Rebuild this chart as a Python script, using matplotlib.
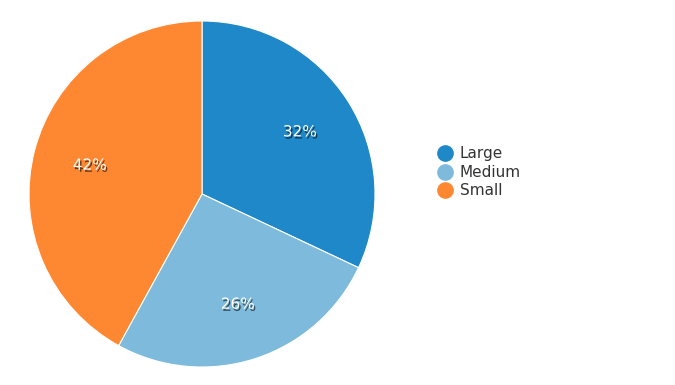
import matplotlib.pyplot as plt
import matplotlib.patheffects as pe
from matplotlib.lines import Line2D

# Data
labels = ['Large', 'Medium', 'Small']
values = [32, 26, 42]
colors = ['#1f88c9', '#7dbadb', '#fe8832']

W, H = 675, 385
fig = plt.figure(figsize=(W / 100, H / 100), dpi=100)

# Pie axes: centre (202,194), radius 173 px
cx, cy, r = 202, 194, 173
ax = fig.add_axes([(cx - r) / W, (H - cy - r) / H, 2 * r / W, 2 * r / H])

wedges, texts, autotexts = ax.pie(
    values, colors=colors, startangle=90, counterclock=False,
    autopct='%1.0f%%', pctdistance=0.67,
    wedgeprops=dict(edgecolor='white', linewidth=0.8),
    textprops=dict(color='white', fontsize=11),
)
for t in autotexts:
    t.set_path_effects([pe.withSimplePatchShadow(offset=(1, -1.5), shadow_rgbFace='black', alpha=0.6)])
ax.set_xlim(-1, 1)
ax.set_ylim(-1, 1)
ax.set_aspect('equal')

# Legend
handles = [Line2D([], [], marker='o', linestyle='', markersize=11,
                  markerfacecolor=c, markeredgecolor=c) for c in colors]
leg = fig.legend(handles, labels, loc='upper left',
                 bbox_to_anchor=(440 / W, 1 - 146.5 / H), frameon=False,
                 fontsize=11, handlelength=0.7, handletextpad=0.6,
                 labelspacing=0.22, borderaxespad=0, borderpad=0)
for t in leg.get_texts():
    t.set_color('#333333')

fig.savefig('out.png', dpi=100)
